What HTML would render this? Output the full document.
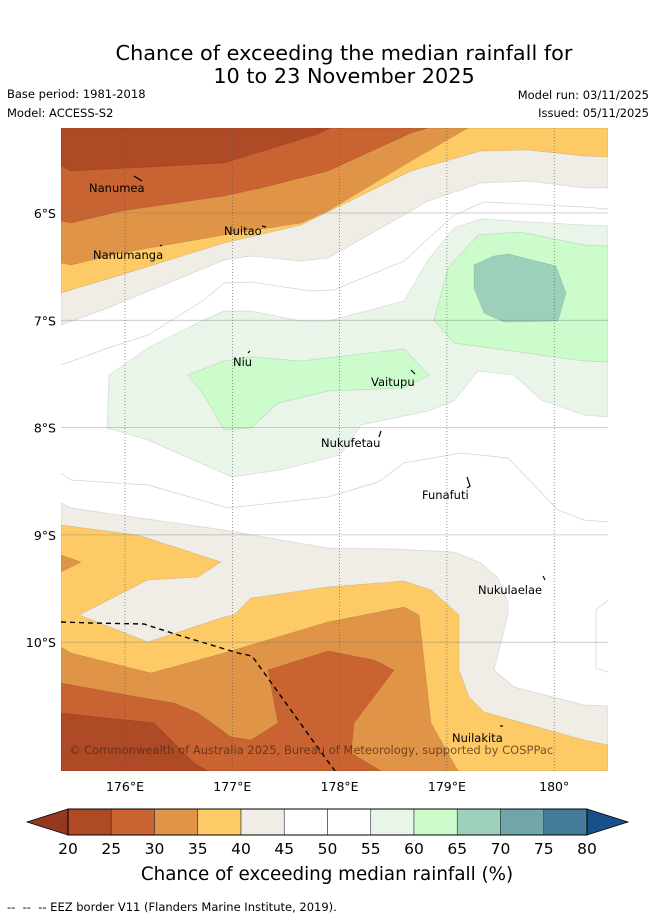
<!DOCTYPE html>
<html><head><meta charset="utf-8"><style>
html,body{margin:0;padding:0;background:#fff;}
svg{display:block;font-family:"DejaVu Sans","Liberation Sans",sans-serif;}
</style></head><body>
<svg id="chart" width="655" height="919" viewBox="0 0 655 919">
<text x="344" y="60" font-size="20.8" text-anchor="middle">Chance of exceeding the median rainfall for</text>
<text x="344" y="83" font-size="20.8" text-anchor="middle">10 to 23 November 2025</text>
<text x="7" y="98" font-size="11.5">Base period: 1981-2018</text>
<text x="7" y="117" font-size="11.5">Model: ACCESS-S2</text>
<text x="649" y="99" font-size="11.5" text-anchor="end">Model run: 03/11/2025</text>
<text x="649" y="117" font-size="11.5" text-anchor="end">Issued: 05/11/2025</text>
<defs><clipPath id="mapclip"><rect x="61" y="128" width="547" height="643"/></clipPath></defs>
<g id="map" clip-path="url(#mapclip)">
<rect x="61" y="128" width="547" height="643" fill="#fff"/>
</g>
<g id="axes"></g>
<g id="colorbar"></g>
<text x="327" y="880" font-size="18.3" text-anchor="middle">Chance of exceeding median rainfall (%)</text>
<text x="7" y="911" font-size="11.5">-- &#160;-- &#160;-- EEZ border V11 (Flanders Marine Institute, 2019).</text>
</svg>
<script>
const NS='http://www.w3.org/2000/svg';
const cbTicks=[20,25,30,35,40,45,50,55,60,65,70,75,80];
const cbColors=['#ae4a25','#c96331','#e09448','#fdca65','#f0ece6','#ffffff','#ffffff','#eaf5e9','#ccfccc','#9dd0bb','#70a6a7','#437b98'];
const cbUnder='#963720', cbOver='#17508a';
const lonTicks=[176,177,178,179,180];
const latTicks=[6,7,8,9,10];
const lonX=l=>125+(l-176)*107.3;
const latY=a=>213+(a-6)*107.3;
const cbX=v=>68+(v-20)*(519/60);

function mk(tag,attrs,parent){const e=document.createElementNS(NS,tag);for(const k in attrs)e.setAttribute(k,attrs[k]);parent.appendChild(e);return e;}
const map=document.getElementById('map');
function poly(pts,fill,name,stroke){
  const e=mk('polygon',{points:pts.map(p=>p.join(',')).join(' '),fill:fill,stroke:stroke||'rgba(0,0,0,0.12)','stroke-width':'0.7'},map);
  
  
}
function line(pts,name,extra){
  const e=mk('polyline',Object.assign({points:pts.map(p=>p.join(',')).join(' '),fill:'none',stroke:'rgba(0,0,0,0.18)','stroke-width':'0.7'},extra||{}),map);
  
  
}
poly([[61,128],[608,128],[608,188],[584,188],[528,181],[481,183],[428,201],[404,215],[328,258],[301,261],[251,256],[224,260],[108,308],[61,325]],'#f0ece6','band-40-45-north');
poly([[61,128],[608,128],[608,157],[584,156],[528,150],[481,151],[411,171],[301,225],[224,243],[121,275],[61,293]],'#fdca65','band-35-40-north');
poly([[61,128],[468,128],[411,161],[328,211],[301,223],[224,235],[121,253],[71,265],[61,263]],'#e09448','band-30-35-north');
poly([[61,128],[428,128],[411,133],[328,171],[261,188],[224,196],[121,211],[71,223],[61,221]],'#c96331','band-25-30-north');
poly([[61,128],[330,128],[318,134],[224,163],[71,171],[61,166]],'#ae4a25','band-20-25-north');
poly([[109,375],[148,348],[204,320],[224,311],[251,311],[301,321],[328,321],[404,301],[428,260],[454,228],[481,219],[584,225],[608,226],[608,417],[584,415],[541,400],[514,375],[478,371],[454,401],[428,411],[361,425],[340,455],[280,470],[232,477],[148,440],[107,428]],'#eaf5e9','band-55-60');
poly([[434,320],[448,268],[478,235],[520,232],[584,245],[608,246],[608,362],[584,361],[454,343]],'#ccfccc','band-60-65-east');
poly([[474,265],[494,256],[508,254],[556,266],[566,293],[558,321],[504,322],[484,313],[474,288]],'#9dd0bb','band-65-70');
poly([[188,375],[224,361],[251,357],[301,361],[404,349],[429,375],[404,388],[328,391],[278,403],[251,428],[224,430],[204,395]],'#ccfccc','band-60-65-central');
line([[61,365],[108,348],[148,335],[204,300],[224,283],[251,282],[311,291],[334,290],[404,261],[454,215],[484,202],[584,207],[608,209]],'contour-50-north');
line([[61,473],[71,480],[148,485],[228,508],[328,497],[378,482],[404,463],[461,453],[508,458],[558,510],[584,520],[608,522]],'contour-50-south');
line([[608,600],[596,610],[596,668],[608,672]],'contour-50-east');
poly([[61,503],[71,508],[224,530],[328,548],[394,549],[454,552],[481,563],[498,578],[508,603],[508,615],[494,670],[514,687],[584,705],[608,706],[608,771],[61,771]],'#f0ece6','band-40-45-south');
poly([[61,525],[138,535],[221,562],[198,577],[148,580],[79,615],[148,642],[224,617],[234,615],[251,598],[328,587],[404,581],[431,590],[459,615],[459,670],[469,697],[484,712],[584,740],[608,745],[608,771],[61,771]],'#fdca65','band-35-40-south');
poly([[61,555],[81,562],[61,572]],'#e09448','band-30-35-west');
poly([[61,647],[71,653],[151,673],[224,653],[328,622],[404,607],[419,615],[424,660],[431,723],[458,771],[61,771]],'#e09448','band-30-35-south');
poly([[61,683],[138,697],[174,703],[198,713],[231,737],[251,740],[278,723],[268,670],[328,651],[374,660],[394,670],[354,723],[351,753],[381,771],[61,771]],'#c96331','band-25-30-south');
poly([[61,713],[154,723],[194,763],[208,771],[61,771]],'#ae4a25','band-20-25-south');
line([[61,622],[91,623],[144,624],[178,635],[238,653],[252,656],[321,752],[335,771]],'eez-border',{stroke:'#000','stroke-width':'1.4','stroke-dasharray':'5,4'});
lonTicks.forEach(l=>{const e=mk('line',{x1:lonX(l),x2:lonX(l),y1:128,y2:771,stroke:'#555','stroke-width':'0.6','stroke-dasharray':'1,2'},map);

});
latTicks.forEach(a=>{const e=mk('line',{x1:61,x2:608,y1:latY(a),y2:latY(a),stroke:'rgba(120,120,120,0.45)','stroke-width':'0.8'},map);

});
const islands=[['Nanumea',89,192,[[134,176],[142,181]]],['Nuitao',224,235,[[262,226],[266,227]]],['Nanumanga',93,259,[[160,246],[162,245]]],['Niu',233,366,[[248,353],[250,351]]],['Vaitupu',371,386,[[411,370],[415,374]]],['Nukufetau',321,447,[[379,437],[381,431]]],['Funafuti',422,499,[[467,477],[470,486],[467,488]]],['Nukulaelae',478,594,[[543,576],[545,580]]],['Nuilakita',452,742,[[500,726],[503,726]]]];
islands.forEach(([n,x,y,pts])=>{
  const t=mk('text',{x:x,y:y,'font-size':'11.5',fill:'#000'},map);t.textContent=n;
  
  
  line(pts,'island-outline',{stroke:'#000','stroke-width':'1.2'});
});
{const t=mk('text',{x:69,y:754,'font-size':'11.5',fill:'rgba(80,40,20,0.75)'},map);t.textContent='© Commonwealth of Australia 2025, Bureau of Meteorology, supported by COSPPac';

}
const axes=document.getElementById('axes');
lonTicks.forEach(l=>{const t=mk('text',{x:lonX(l),y:791,'font-size':'12.5','text-anchor':'middle'},axes);t.textContent=l+'°'+(l===180?'':'E');

});
latTicks.forEach(a=>{const t=mk('text',{x:56,y:latY(a)+5,'font-size':'12.5','text-anchor':'end'},axes);t.textContent=a+'°S';

});
const cb=document.getElementById('colorbar');
{const e=mk('polygon',{points:`${cbX(20)},809 27,822 ${cbX(20)},835`,fill:cbUnder,stroke:'#000','stroke-width':'0.8'},cb);

}
{const e=mk('polygon',{points:`${cbX(80)},809 628,822 ${cbX(80)},835`,fill:cbOver,stroke:'#000','stroke-width':'0.8'},cb);

}
cbColors.forEach((c,i)=>{const x0=cbX(cbTicks[i]),x1=cbX(cbTicks[i+1]);
const e=mk('rect',{x:x0,y:809,width:x1-x0,height:26,fill:c,stroke:'#333','stroke-width':'0.6'},cb);

});
mk('rect',{x:cbX(20),y:809,width:cbX(80)-cbX(20),height:26,fill:'none',stroke:'#000','stroke-width':'1'},cb);
cbTicks.forEach(v=>{const t=mk('text',{x:cbX(v),y:854,'font-size':'15.5','text-anchor':'middle'},cb);t.textContent=v;

});
</script>
</body></html>
